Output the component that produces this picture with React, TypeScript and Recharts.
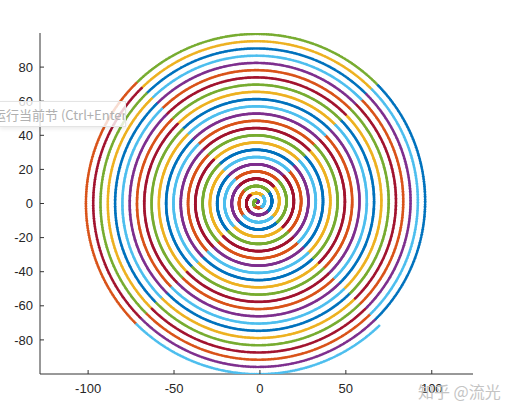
import React from "react";
import { ScatterChart, Scatter, XAxis, YAxis } from "recharts";

// MATLAB default line colours, cycled by the plot
const lineColors = ["#0072BD", "#D95319", "#EDB120", "#7E2F8E", "#77AC30", "#4DBEEE", "#A2142F"];

// spiral parameters: r = t / 1.48, t from 0 to 150,
// centre sits slightly left of and above the origin
const tEnd = 150;
const tStep = 0.01;
const radiusDivisor = 1.48;
const centerX = -1.5;
const centerY = 0.7;
// colour changes every quarter turn on the diagonals, and moves 4 places along the colour order
const colorStepPerQuarter = 4;

const xTicks = [-100, -50, 0, 50, 100];
const yTicks = [-80, -60, -40, -20, 0, 20, 40, 60, 80];
const xDomain: [number, number] = [-128, 124];
const yDomain: [number, number] = [-100, 100];

type Pt = { x: number; y: number };

const series: Pt[][] = lineColors.map(() => []);
for (let i = 0; i * tStep <= tEnd + 1e-9; i++) {
  const t = i * tStep;
  const r = t / radiusDivisor;
  const k = Math.floor((t - Math.PI / 4) / (Math.PI / 2));
  const c = (((colorStepPerQuarter * k) % 7) + 7) % 7;
  series[c].push({ x: centerX + r * Math.cos(t), y: centerY + r * Math.sin(t) });
}

const AXIS = "#333333";
const FONT = '"Liberation Sans", Arial, sans-serif';
const TICK_LEN = 4;
const Y_GAP = 7;
const X_GAP = 10;

const YTick = (p: any) => {
  const { x, y, payload } = p;
  return (
    <g>
      <line x1={x + Y_GAP} x2={x + Y_GAP + TICK_LEN} y1={y} y2={y} stroke={AXIS} />
      <text x={x} y={y} dy="0.355em" textAnchor="end" fontSize={13} fontFamily={FONT} fill="#262626">
        {payload.value}
      </text>
    </g>
  );
};

const XTick = (p: any) => {
  const { x, y, payload } = p;
  return (
    <g>
      <line x1={x} x2={x} y1={y - X_GAP} y2={y - X_GAP - TICK_LEN} stroke={AXIS} />
      <text x={x} y={y} dy="0.71em" textAnchor="middle" fontSize={13} fontFamily={FONT} fill="#262626">
        {payload.value}
      </text>
    </g>
  );
};

export default function App() {
  return (
    <div style={{ position: "absolute", left: 0, top: 0, width: 511, height: 419, background: "#fff" }}>
      <ScatterChart width={511} height={419} margin={{ top: 33, right: 38, bottom: 15, left: 0 }}>
        <XAxis
          type="number"
          dataKey="x"
          domain={xDomain}
          ticks={xTicks}
          allowDataOverflow
          height={30}
          tickSize={0}
          tickMargin={X_GAP}
          tickLine={false}
          axisLine={{ stroke: AXIS }}
          tick={<XTick />}
        />
        <YAxis
          type="number"
          dataKey="y"
          domain={yDomain}
          ticks={yTicks}
          allowDataOverflow
          width={40}
          tickSize={0}
          tickMargin={Y_GAP}
          tickLine={false}
          axisLine={{ stroke: AXIS }}
          tick={<YTick />}
        />
        {series.map((pts, i) => (
          <Scatter
            key={i}
            data={pts}
            fill={lineColors[i]}
            isAnimationActive={false}
            shape={(s: any) => <circle cx={s.cx} cy={s.cy} r={1.35} fill={lineColors[i]} />}
          />
        ))}
      </ScatterChart>
      <div
        style={{
          position: "absolute",
          left: 0,
          top: 101,
          width: 125,
          height: 24,
          background: "rgba(255,255,255,0.8)",
          borderTop: "1px solid #e4e4e4",
          borderBottom: "1px solid #e4e4e4",
          borderRight: "1px solid #e4e4e4",
          boxShadow: "0 2px 4px rgba(0,0,0,0.08)",
          overflow: "hidden",
          whiteSpace: "nowrap",
        }}
      >
        <span
          style={{
            position: "absolute",
            left: -7,
            top: 3,
            fontSize: 13,
            color: "#b0b0b0",
            fontFamily: '"Noto Sans CJK SC", "Liberation Sans", sans-serif',
          }}
        >
          运行当前节 (Ctrl+Enter)
        </span>
      </div>
      <div
        style={{
          position: "absolute",
          left: 418,
          top: 379,
          fontSize: 16,
          color: "#c4c4c4",
          fontFamily: '"Noto Sans CJK SC", sans-serif',
          whiteSpace: "nowrap",
        }}
      >
        知乎 @流光
      </div>
    </div>
  );
}
